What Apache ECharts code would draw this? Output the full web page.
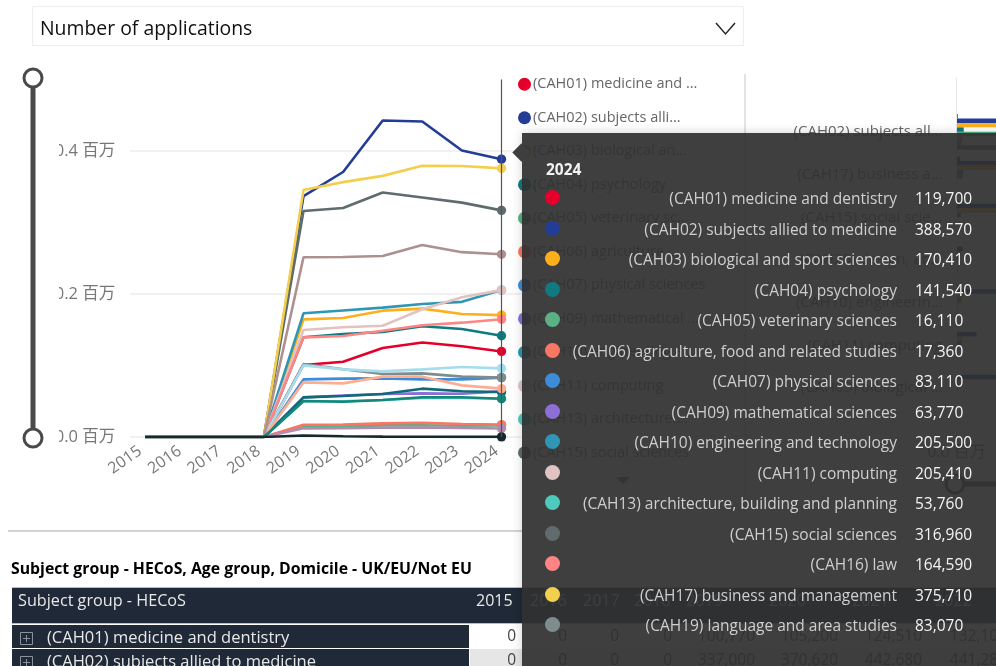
<!DOCTYPE html>
<html>
<head>
<meta charset="utf-8">
<title>Number of applications</title>
<style>
    html, body { margin: 0; padding: 0; background: #fff; overflow: hidden; }
    #app { width: 996px; height: 666px; }
</style>
<script src="https://cdn.jsdelivr.net/npm/echarts@6/dist/echarts.min.js"></script>
</head>
<body>
<div id="app"></div>
<script>
'use strict';

var FONT = '"Open Sans", "Noto Sans CJK SC", sans-serif';

var years = ['2015', '2016', '2017', '2018', '2019', '2020', '2021', '2022', '2023', '2024'];

var names = [
    '(CAH01) medicine and dentistry',
    '(CAH02) subjects allied to medicine',
    '(CAH03) biological and sport sciences',
    '(CAH04) psychology',
    '(CAH05) veterinary sciences',
    '(CAH06) agriculture, food and related studies',
    '(CAH07) physical sciences',
    '(CAH09) mathematical sciences',
    '(CAH10) engineering and technology',
    '(CAH11) computing',
    '(CAH13) architecture, building and planning',
    '(CAH15) social sciences',
    '(CAH16) law',
    '(CAH17) business and management',
    '(CAH19) language and area studies',
    '(CAH20) historical, philosophical and religious studies',
    '(CAH22) education and teaching',
    '(CAH23) combined and general studies',
    '(CAH24) media, journalism and communications',
    '(CAH25) design, and creative and performing arts',
    '(CAH26) geography, earth and environmental studies',
    'Other'
];

var colors = ['#E4002B', '#233D96', '#FDAF1C', '#0F7B80', '#5BB085', '#F87662', '#3D8CD8', '#8B6FD6',
    '#2F97B5', '#E1C3C3', '#4EC9BD', '#5F6B6D', '#FF8585', '#F2D04E', '#7F8C8E', '#0F6A78',
    '#A5DDEE', '#B28BB0', '#FFAD91', '#AD9090', '#14877B', '#16292E'];

// 2015-2018 are all zero in the source
var cah01 = [0, 0, 0, 0, 100770, 105200, 124510, 132100, 127000, 119700];
var cah02 = [0, 0, 0, 0, 337000, 370620, 442680, 441280, 400700, 388570];
var cah03 = [0, 0, 0, 0, 164500, 166400, 176700, 179500, 172000, 170410];
var cah04 = [0, 0, 0, 0, 139500, 144000, 146900, 154800, 151000, 141540];
var cah05 = [0, 0, 0, 0, 15400, 15000, 16200, 16500, 15800, 16110];
var cah06 = [0, 0, 0, 0, 17200, 17300, 19100, 20000, 18200, 17360];
var cah07 = [0, 0, 0, 0, 80600, 81600, 82000, 80600, 80600, 83110];
var cah09 = [0, 0, 0, 0, 55400, 58000, 60200, 61000, 60500, 63770];
var cah10 = [0, 0, 0, 0, 173000, 177000, 181000, 186000, 189000, 205500];
var cah11 = [0, 0, 0, 0, 149600, 153400, 155700, 178600, 195400, 205410];
var cah13 = [0, 0, 0, 0, 49900, 49900, 51700, 54500, 54500, 53760];
var cah15 = [0, 0, 0, 0, 316100, 320300, 342000, 335000, 327800, 316960];
var cah16 = [0, 0, 0, 0, 139400, 141300, 148700, 156200, 159900, 164590];
var cah17 = [0, 0, 0, 0, 345400, 356500, 365200, 379400, 379000, 375710];
var cah19 = [0, 0, 0, 0, 102000, 94700, 88100, 89000, 84400, 83070];
var cah20 = [0, 0, 0, 0, 55400, 57400, 60200, 67600, 63900, 62900];
var cah22 = [0, 0, 0, 0, 100200, 94600, 91800, 94600, 97900, 96000];
var cah23 = [0, 0, 0, 0, 12100, 12300, 13000, 13300, 12800, 11900];
var cah24 = [0, 0, 0, 0, 76400, 75000, 84400, 84400, 72200, 67600];
var cah25 = [0, 0, 0, 0, 251300, 251700, 253200, 268500, 258500, 255500];
var cah26 = [0, 0, 0, 0, 50300, 49300, 51700, 55500, 55500, 53500];
var other = [0, 0, 0, 0, 2000, 1000, 500, 300, 200, 200];

var lineValues = [cah01, cah02, cah03, cah04, cah05, cah06, cah07, cah09, cah10, cah11, cah13,
    cah15, cah16, cah17, cah19, cah20, cah22, cah23, cah24, cah25, cah26, other];

// legend shows the first page only
var legendNames = names.slice(0, 12);

// bar panel on the right, mostly hidden by the tooltip
var barLabels = ['(CAH02) subjects allied to medicine', '(CAH17) business and management',
    '(CAH15) social sciences', '(CAH25) design, and creative and performing arts',
    '(CAH10) engineering and technology', '(CAH11) computing', '(CAH03) biological and sport sciences'];
var barRed = [2500, 7500, 1000, 500, 4000, 1000, 1000];
var barNavy = [150000, 150000, 150000, 12000, 150000, 40000, 150000];
var barOrange = [150000, 150000, 150000, 9000, 14000, 12000, 14500];
var barTeal = [14500, 13500, 9000, 5000, 10000, 10000, 6000];
var barGreen = [150000, 12500, 1000, 1000, 3000, 2000, 2000];
var barSalmon = [12500, 2000, 2000, 1000, 2000, 1500, 1000];
var barSteel = [9500, 1000, 1500, 2000, 2000, 1000, 1000];
var barGrey = [150000, 800, 1500, 500, 1500, 500, 500];

var barValues = [barRed, barNavy, barOrange, barTeal, barGreen, barSalmon, barSteel, barGrey];
var barColors = ['#E4002B', '#233D96', '#FDAF1C', '#0F7B80', '#5BB085', '#AD9090', '#3D8CD8', '#5F6B6D'];

// table under the chart
var tableYears = years.slice(0, 8);
var tableRows = [names[0], names[1]];
var tableValues = [cah01, cah02];
var colLeft = [470, 524, 577, 628, 680, 763, 846, 929];
var colRight = [516, 567, 619, 672, 755, 838, 922, 1007];

var app = {
    el: document.getElementById('app'),
    yTick: function (value) {
        return (value / 1000000).toFixed(1) + ' 百万';
    },
    text: function (text, x, y, size, color, extra) {
        var style = { text: text, x: x, y: y, fill: color, font: (extra && extra.weight || 'normal') + ' ' + size + 'px ' + FONT,
            verticalAlign: 'middle', align: extra && extra.align || 'left' };
        return { type: 'text', z: 20, style: style };
    },
    chrome: function () {
        var items = [];
        var line = function (x1, y1, x2, y2, color, width) {
            items.push({ type: 'line', z: 10, shape: { x1: x1, y1: y1, x2: x2, y2: y2 }, style: { stroke: color, lineWidth: width } });
        };
        var rect = function (x, y, w, h, fill, stroke) {
            items.push({ type: 'rect', z: 5, shape: { x: x, y: y, width: w, height: h }, style: { fill: fill, stroke: stroke || null } });
        };
        var knob = function (cx, cy) {
            items.push({ type: 'circle', z: 12, shape: { cx: cx, cy: cy, r: 9 }, style: { fill: '#fff', stroke: '#4a4a4a', lineWidth: 3 } });
        };

        // dropdown
        rect(32.5, 6.5, 711, 39, '#fff', '#eeeeee');
        items.push(app.text('Number of applications', 40, 29, 19.4, '#111'));
        items.push({ type: 'polyline', z: 20, shape: { points: [[716, 23], [725.5, 34], [735, 23]] }, style: { stroke: '#222', lineWidth: 1.4, fill: null } });

        // range slider on the left
        line(33, 78, 33, 438, '#4a4a4a', 5);
        knob(33, 78);
        knob(33, 438);
        // the first digit of the tick labels is cut off in the source
        rect(46, 140, 13, 310, '#fff');
        // gridlines start a little right of the band edge
        rect(124, 140, 6, 300, '#fff');

        // panel dividers, legend pager, second slider
        line(745, 74, 745, 515, '#c8c8c8', 1);
        line(956.5, 78, 956.5, 440, '#e6e6e6', 1);
        items.push({ type: 'polygon', z: 10, shape: { points: [[616, 477], [630, 477], [623, 484]] }, style: { fill: '#555' } });
        line(955, 484, 996, 484, '#4a4a4a', 5);
        knob(955, 484);

        // divider and table title
        line(8, 531, 522, 531, '#c4c4c4', 1.5);
        items.push(app.text('Subject group - HECoS, Age group, Domicile - UK/EU/Not EU', 11, 569, 15.8, '#000', { weight: 'bold' }));

        // table header
        rect(12, 588, 984, 35, '#1F2937');
        line(12, 587.5, 996, 587.5, '#bbbbbb', 1);
        line(12, 623.5, 996, 623.5, '#bbbbbb', 1);
        items.push(app.text('Subject group - HECoS', 18, 601, 16.2, '#e8e8e8'));
        tableYears.forEach(function (year, i) {
            items.push(app.text(year, colLeft[i] + 6, 601, 16, '#e8e8e8'));
        });

        // table rows
        tableRows.forEach(function (row, r) {
            var top = 625 + r * 24;
            rect(12, top, 457, 23, '#1F2937');
            rect(470, top, 526, 23, r % 2 ? '#e6e6e6' : '#fff');
            items.push({ type: 'rect', z: 20, shape: { x: 20.5, y: top + 7.5, width: 12, height: 12 }, style: { fill: null, stroke: '#8a929c', lineWidth: 1 } });
            line(23, top + 13.5, 30, top + 13.5, '#8a929c', 1);
            line(26.5, top + 10, 26.5, top + 17, '#8a929c', 1);
            items.push(app.text(row, 47, top + 13, 16.5, '#e8e8e8'));
            tableValues[r].slice(0, 8).forEach(function (value, i) {
                items.push(app.text(value.toLocaleString('en-US'), colRight[i], top + 12, 15.5, '#444', { align: 'right' }));
            });
        });
        return items;
    },
    tooltip: function (params) {
        var html = '<div style="position:absolute;left:-10px;top:10px;width:19px;height:19px;">'
            + '<div style="position:absolute;left:3px;top:3px;width:13px;height:13px;transform:rotate(45deg);background:#3e3e3e;"></div></div>';
        html += '<div style="position:absolute;left:24px;top:25px;color:#f2f2f2;font-weight:bold;font-size:15.5px;">' + params[0].axisValue + '</div>';
        // the list runs off the bottom after 15 rows in the source
        params.slice(0, 15).forEach(function (p, i) {
            var top = 55 + i * 30.5;
            html += '<div style="position:absolute;left:0;top:' + top + 'px;width:470px;height:20px;line-height:20px;font-size:15.5px;">'
                + '<span style="position:absolute;left:23px;top:2px;width:15px;height:15px;border-radius:50%;background:' + p.color + ';"></span>'
                + '<span style="position:absolute;right:95px;top:0;color:#cfcfcf;white-space:nowrap;">' + p.seriesName + '</span>'
                + '<span style="position:absolute;left:393px;top:0;color:#f4f4f4;">' + p.value.toLocaleString('en-US') + '</span></div>';
        });
        return html;
    }
};

var lineSeries = names.map(function (name, i) {
    return {
        name: name,
        type: 'line',
        data: lineValues[i],
        xAxisIndex: 0,
        yAxisIndex: 0,
        color: colors[i],
        lineStyle: { width: 2.6 },
        symbol: 'circle',
        symbolSize: function (value, params) {
            return params.dataIndex === 9 ? 8.5 : 0;
        },
        emphasis: { disabled: true },
        silent: true
    };
});

var barSeries = barValues.map(function (values, i) {
    return {
        name: 'bar' + i,
        type: 'bar',
        data: values,
        xAxisIndex: 1,
        yAxisIndex: 1,
        color: barColors[i],
        barGap: 0,
        barCategoryGap: '16%',
        tooltip: { show: false },
        silent: true
    };
});

var chart = echarts.init(app.el);

chart.setOption({
    animation: false,
    textStyle: { fontFamily: FONT },
    grid: [
        { left: 125.3, width: 396, top: 79.5, height: 357.5 },
        { left: 956.5, width: 400, top: 110.5, height: 299 }
    ],
    xAxis: [{
        type: 'category',
        gridIndex: 0,
        data: years,
        boundaryGap: true,
        axisLine: { show: false },
        axisTick: { show: false },
        axisLabel: { rotate: 35, fontSize: 16, color: '#777', margin: 9, interval: 0, padding: [0, 6, 0, 0] }
    }, {
        type: 'value',
        gridIndex: 1,
        min: 0,
        max: 200000,
        axisLine: { show: false },
        axisTick: { show: false },
        splitLine: { show: false },
        axisLabel: { customValues: [0], formatter: app.yTick, fontSize: 16, color: '#666', margin: 35 }
    }],
    yAxis: [{
        type: 'value',
        gridIndex: 0,
        min: 0,
        max: 500000,
        interval: 200000,
        axisLine: { show: false },
        axisTick: { show: false },
        splitLine: { lineStyle: { color: '#ececec', width: 1.5 }, showMaxLine: false },
        axisLabel: { formatter: app.yTick, fontSize: 16.5, color: '#777', margin: 10, showMaxLabel: false }
    }, {
        type: 'category',
        gridIndex: 1,
        data: barLabels,
        inverse: true,
        axisLine: { show: false },
        axisTick: { show: false },
        axisLabel: { fontSize: 15, color: '#666', margin: 14, width: 150, overflow: 'truncate', ellipsis: '...', interval: 0 }
    }],
    legend: {
        data: legendNames,
        orient: 'vertical',
        left: 518,
        top: 77,
        padding: 0,
        icon: 'circle',
        itemWidth: 13,
        itemHeight: 14,
        itemGap: 19,
        selectedMode: false,
        textStyle: { fontSize: 14.5, color: '#666', width: 176, overflow: 'truncate', ellipsis: '...', padding: [0, 0, 0, -3] }
    },
    tooltip: {
        trigger: 'axis',
        triggerOn: 'none',
        alwaysShowContent: true,
        transitionDuration: 0,
        position: [522, 133],
        backgroundColor: 'rgba(48,48,48,0.93)',
        borderWidth: 0,
        padding: 0,
        textStyle: { fontFamily: FONT, fontSize: 15 },
        extraCssText: 'width:490px;height:545px;border-radius:0;box-shadow:0 0 10px rgba(0,0,0,0.18);',
        axisPointer: { type: 'line', lineStyle: { color: '#555', width: 1.2, type: 'solid' } },
        formatter: app.tooltip
    },
    graphic: { elements: app.chrome() },
    series: lineSeries.concat(barSeries)
});

chart.dispatchAction({ type: 'showTip', seriesIndex: 0, dataIndex: 9 });
</script>
</body>
</html>
